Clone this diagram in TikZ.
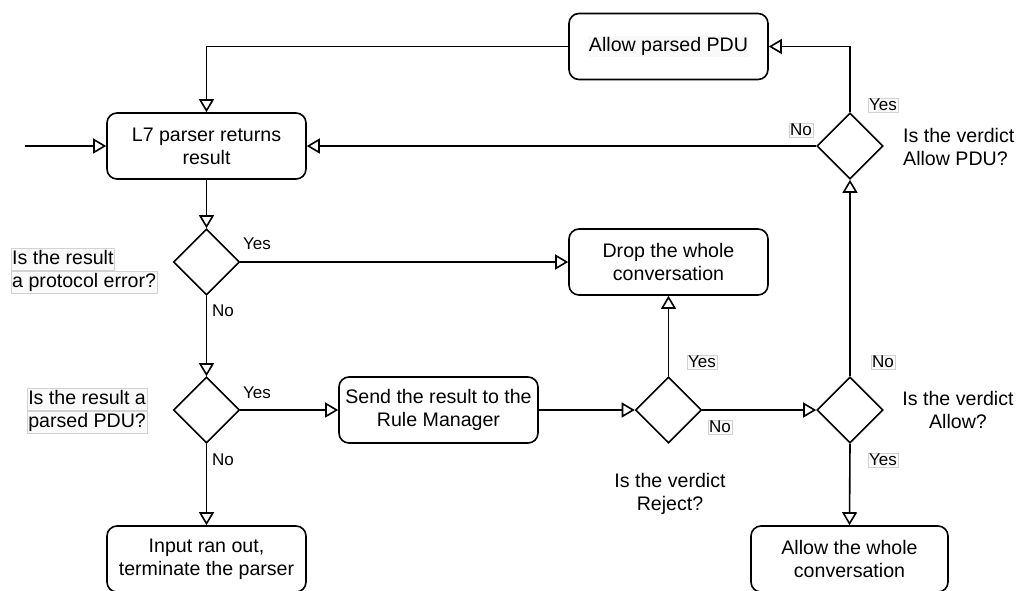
\documentclass[tikz,border=0pt]{standalone}
\usepackage{fontspec}
\setmainfont{Liberation Sans}
\usetikzlibrary{arrows.meta,shapes.geometric}
\begin{document}
\begin{tikzpicture}[x=1pt,y=-1pt,
  every node/.style={font=\fontsize{19.6}{23}\selectfont},
  box/.style={draw,line width=1.6pt,rounded corners=10pt,minimum width=199pt,minimum height=66pt,align=center,inner sep=2pt},
  dec/.style={draw,line width=1.6pt,diamond,minimum width=66pt,minimum height=66pt,inner sep=0pt},
  arr/.style={line width=1.6pt,-{Triangle[open,length=13pt,width=15pt,line width=1.6pt]}},
  lbl/.style={font=\fontsize{17}{20}\selectfont,inner sep=1pt},
  tag/.style={lbl,fill=gray!4,draw=gray!35,line width=0.5pt},
  qline/.style={fill=gray!4,draw=gray!35,line width=0.5pt,inner sep=1pt,text height=15pt,text depth=5pt,anchor=west},
  ques/.style={align=center,inner sep=0pt}]
\useasboundingbox (0,0) rectangle (1018,590);

% process boxes
\node[box] (l7) at (206.5,146) {L7 parser returns\\result};
\node[box] (apdu) at (668.5,46.5) {{\setlength{\fboxsep}{1pt}\colorbox{gray!5}{Allow parsed PDU}}};
\node[box] (drop) at (668.5,262) {Drop the whole\\conversation};
\node[box] (send) at (438.5,410) {Send the result to the\\Rule Manager};
\node[box] (input) at (206.5,559) {Input ran out,\\terminate the parser};
\node[box,minimum width=197pt] (allow) at (849.5,559) {Allow the whole\\conversation};

% decisions
\node[dec] (d1) at (206.5,262) {};
\node[dec] (d2) at (206.5,410) {};
\node[dec] (d3) at (668.5,410) {};
\node[dec] (d4) at (850,410) {};
\node[dec] (d5) at (850,146) {};

% question texts
\node[qline] (q1a) at (11,259) {Is the result};
\node[qline] (q1b) at (11,282) {a protocol error?};
\node[qline] (q2a) at (27,399) {Is the result a};
\node[qline] (q2b) at (27,422) {parsed PDU?};
\node[ques,align=left,anchor=west] (q5) at (903,147) {Is the verdict\\Allow PDU?};
\node[ques] (q3) at (670,494) {Is the verdict\\Reject?};
\node[ques] (q4) at (958,410) {Is the verdict\\Allow?};

% connectors
\coordinate (start) at (25,146);
\draw[arr] (start) -- (l7.west);
\draw[arr] (apdu.west) -| (l7.north);
\draw[arr] (d5.north) |- (apdu.east);
\draw[arr] (d5.west) -- (l7.east);
\draw[arr] (l7.south) -- (d1.north);
\draw[arr] (d1.east) -- (drop.west);
\draw[arr] (d1.south) -- (d2.north);
\draw[arr] (d2.east) -- (send.west);
\draw[arr] (d2.south) -- (input.north);
\draw[arr] (send.east) -- (d3.west);
\draw[arr] (d3.north) -- (drop.south);
\draw[arr] (d3.east) -- (d4.west);
\draw[arr] (d4.north) -- (d5.south);
\draw[arr] (d4.south) -- (allow.north);

% branch labels
\node[lbl] (y1) at (257,244) {Yes};
\node[lbl] (n1) at (223,311) {No};
\node[lbl] (y2) at (257,393) {Yes};
\node[lbl] (n2) at (223,460) {No};
\node[tag] (y5) at (883,105) {Yes};
\node[tag] (n5) at (801,130) {No};
\node[tag] (y3) at (702,362) {Yes};
\node[tag] (n3) at (720,427) {No};
\node[tag] (n4) at (883,362) {No};
\node[tag] (y4) at (883,460) {Yes};
\end{tikzpicture}
\end{document}
